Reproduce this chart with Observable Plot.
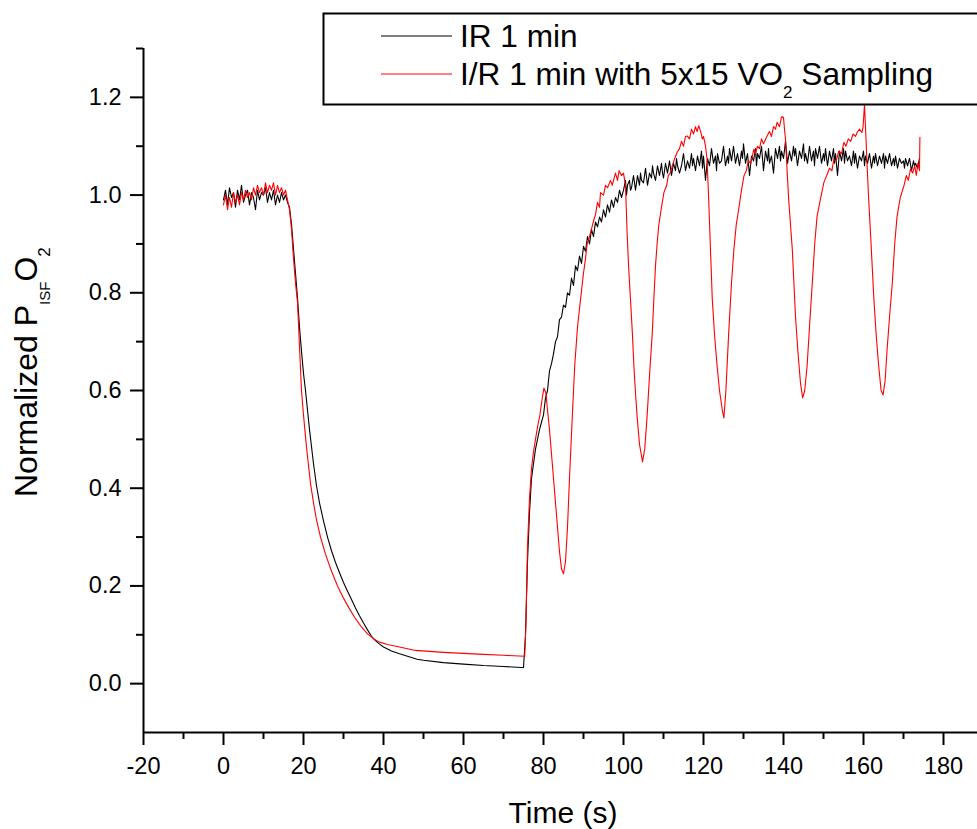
<!DOCTYPE html>
<html>
<head>
<meta charset="utf-8">
<script src="https://cdn.jsdelivr.net/npm/d3@7"></script>
<script src="https://cdn.jsdelivr.net/npm/@observablehq/plot@0.6"></script>
<style>
  html, body { margin: 0; padding: 0; background: #fff; overflow: hidden; }
  svg { display: block; }
</style>
</head>
<body>
<script>
// ---- Data ----
const xTitle = "Time (s)";
const yTitleMain = "Normalized P";
const yTitleSub1 = "ISF";
const yTitleMid = "O";
const yTitleSub2 = "2";
const legendLabel1 = "IR 1 min";
const legendLabel2a = "I/R 1 min with 5x15 VO";
const legendLabel2sub = "2";
const legendLabel2b = " Sampling";

const xMajorTicks = [-20, 0, 20, 40, 60, 80, 100, 120, 140, 160, 180];
const xMinorTicks = [-10, 10, 30, 50, 70, 90, 110, 130, 150, 170];
const yMajorTicks = [0.0, 0.2, 0.4, 0.6, 0.8, 1.0, 1.2];
const yMinorTicks = [0.1, 0.3, 0.5, 0.7, 0.9, 1.1, 1.3];

// IR 1 min (black): [time s, normalized PISFO2]
const irSeries = [
  [0,0.99],[0.5,1.01],[1,0.98],[1.5,1.015],[2,0.995],[2.5,1.005],[3,0.975],[3.5,1.01],[4,0.99],[4.5,1.02],
  [5,0.985],[5.5,1.0],[6,1.01],[6.5,0.98],[7,1.005],[7.5,0.995],[8,0.97],[8.5,1.01],[9,0.99],[9.5,1.005],
  [10,1.0],[10.5,1.015],[11,0.985],[11.5,1.005],[12,0.99],[12.5,1.01],[13,0.98],[13.5,1.0],[14,0.985],[14.5,1.005],
  [15,0.99],[15.5,1.0],[16,0.985],
  [16.5,0.975],[17,0.94],[17.5,0.89],[18,0.84],[18.5,0.79],[19,0.73],[19.5,0.68],[20,0.635],[20.5,0.6],[21,0.56],
  [21.5,0.52],[22,0.485],[22.5,0.45],[23.25,0.405],[24,0.37],[25,0.333],[26,0.3],[27,0.272],[28,0.248],[29,0.227],
  [30,0.207],[31,0.189],[32,0.172],[33,0.155],[34,0.139],[35,0.124],[36,0.11],[37,0.097],[38,0.088],[39,0.081],
  [40,0.075],[42,0.067],[44,0.061],[46,0.056],[48.4,0.05],[50,0.048],[55,0.043],[60,0.04],[65,0.037],[70,0.035],
  [74.5,0.033],[75,0.033],
  [75.5,0.1],[76,0.25],[76.5,0.35],[77,0.42],[77.5,0.45],[78,0.48],[78.5,0.5],[79,0.52],[79.5,0.535],
  [80,0.55],[80.5,0.585],[81,0.6],[81.5,0.64],[82,0.655],[82.5,0.675],[83,0.70],[83.5,0.71],[84,0.745],[84.5,0.75],
  [85,0.775],[85.5,0.77],[86,0.80],[86.5,0.795],[87,0.83],[87.5,0.815],[88,0.855],[88.5,0.845],[89,0.875],[89.5,0.86],
  [90,0.895],[90.5,0.885],[91,0.915],[91.5,0.90],[92,0.93],[92.5,0.915],[93,0.945],[93.5,0.935],[94,0.955],[94.5,0.945],
  [95,0.97],[95.5,0.955],[96,0.98],[96.5,0.965],[97,0.99],[97.5,0.975],[98,0.995],[98.5,0.985],[99,1.01],[99.5,0.995],
  [100,1.01],[100.25,1.02],[100.5,1.03],[100.75,1.0],[101,1.02],[101.5,1.03],[101.75,1.01],[102,1.015],[102.5,1.04],[103,1.01],
  [103.5,1.04],[104,1.02],[104.25,1.045],[104.5,1.03],[105,1.025],[105.5,1.055],[106,1.02],[106.5,1.045],[107,1.035],[107.25,1.06],
  [107.5,1.045],[108,1.03],[108.5,1.06],[109,1.04],[109.5,1.065],[109.75,1.045],[110,1.035],[110.5,1.065],[111,1.045],[111.5,1.07],
  [112,1.04],[112.5,1.065],[113,1.05],[113.25,1.075],[113.5,1.06],[114,1.045],[114.5,1.06],[115,1.085],[115.5,1.05],[116,1.07],
  [116.5,1.055],[117,1.085],[117.25,1.06],[117.5,1.075],[118,1.05],[118.5,1.08],[119,1.06],[119.5,1.09],[119.75,1.055],[120,1.08],
  [120.5,1.03],[121,1.075],[121.5,1.06],[122,1.095],[122.5,1.065],[123,1.08],[123.25,1.05],[123.5,1.085],[124,1.065],[124.5,1.07],
  [125,1.1],[125.5,1.06],[126,1.08],[126.25,1.065],[126.5,1.095],[127,1.07],[127.5,1.1],[128,1.065],[128.5,1.085],[129,1.06],
  [129.5,1.09],[129.75,1.075],[130,1.105],[130.5,1.065],[131,1.085],[131.5,1.04],[132,1.08],[132.5,1.07],[133,1.095],[133.25,1.06],
  [133.5,1.085],[134,1.075],[134.5,1.1],[135,1.05],[135.5,1.09],[136,1.07],[136.25,1.095],[136.5,1.065],[137,1.08],[137.5,1.045],
  [138,1.095],[138.5,1.075],[139,1.1],[139.25,1.07],[139.5,1.09],[140,1.075],[140.5,1.11],[141,1.065],[141.5,1.09],[142,1.07],
  [142.5,1.1],[142.75,1.08],[143,1.095],[143.5,1.06],[144,1.09],[144.5,1.075],[145,1.105],[145.25,1.07],[145.5,1.085],[146,1.065],
  [146.5,1.1],[147,1.07],[147.5,1.09],[147.75,1.06],[148,1.095],[148.5,1.075],[149,1.1],[149.5,1.065],[150,1.085],[150.25,1.07],
  [150.5,1.095],[151,1.06],[151.5,1.09],[152,1.07],[152.5,1.095],[152.75,1.065],[153,1.085],[153.5,1.04],[154,1.09],[154.5,1.07],
  [155,1.095],[155.25,1.065],[155.5,1.09],[156,1.07],[156.5,1.08],[157,1.06],[157.5,1.09],[157.75,1.065],[158,1.085],[158.5,1.055],
  [159,1.08],[159.5,1.07],[160,1.09],[160.25,1.06],[160.5,1.08],[161,1.065],[161.5,1.085],[162,1.055],[162.5,1.08],[162.75,1.065],
  [163,1.085],[163.5,1.06],[164,1.08],[164.5,1.065],[165,1.085],[165.25,1.055],[165.5,1.08],[166,1.065],[166.5,1.085],[167,1.06],
  [167.5,1.075],[167.75,1.06],[168,1.08],[168.5,1.055],[169,1.075],[169.5,1.065],[170,1.07],[170.25,1.055],[170.5,1.075],[171,1.06],
  [171.5,1.075],[172,1.05],[172.5,1.07],[172.75,1.06],[173,1.065],[173.5,1.055],[174,1.075]
];

// I/R 1 min with 5x15 VO2 Sampling (red): [time s, normalized PISFO2]
const vo2Series = [
  [0,0.98],[0.5,1.0],[1,0.97],[1.5,0.995],[2,0.975],[2.5,1.005],[3,0.985],[3.5,1.0],[4,0.98],[4.5,1.005],
  [5,0.99],[5.5,1.01],[6,0.995],[6.5,1.005],[7,0.99],[7.5,1.015],[8,1.0],[8.5,1.02],[9,1.005],[9.5,1.015],
  [10,1.0],[10.5,1.025],[11,1.005],[11.5,1.02],[12,1.01],[12.5,1.025],[13,1.0],[13.5,1.02],[14,1.005],[14.5,1.015],
  [15,1.0],[15.5,1.01],[16,0.99],
  [16.5,0.97],[17,0.93],[17.5,0.87],[18,0.82],[18.5,0.78],[19,0.69],[19.5,0.6],[20,0.55],[20.5,0.505],[21,0.465],
  [21.75,0.41],[22.5,0.37],[23.25,0.335],[24.25,0.3],[25.5,0.265],[27,0.23],[28.5,0.2],[30,0.175],[31.5,0.153],[33,0.133],
  [34.5,0.116],[36,0.102],[37.5,0.092],[39,0.085],[41,0.08],[44,0.075],[48,0.068],[55,0.064],[60,0.062],[65,0.06],
  [70,0.058],[75.3,0.056],
  [75.6,0.12],[76,0.28],[76.5,0.38],[77,0.44],[77.5,0.475],[78,0.5],[78.5,0.525],[79.1,0.55],[79.6,0.58],[80.1,0.605],
  [80.6,0.595],[81,0.56],[81.5,0.52],[82,0.47],[82.5,0.42],[83,0.37],[83.5,0.32],[84,0.27],[84.5,0.235],[85,0.225],
  [85.5,0.25],[86,0.32],[86.5,0.42],[87.2,0.547],[87.8,0.65],[88.5,0.73],[89.25,0.786],[90,0.84],[90.5,0.87],[90.9,0.9],
  [91.5,0.915],[92.2,0.937],[92.6,0.95],[93,0.96],[93.5,0.985],[94,0.975],[94.25,1.005],[95,1.0],[95.5,1.02],[96,1.015],
  [96.75,1.03],[97.2,1.02],[97.5,1.03],[98,1.045],[98.5,1.03],[98.9,1.05],[99.5,1.04],[100,1.045],[100.5,1.02],
  [100.9,0.923],[101.3,0.85],[101.75,0.786],[102.2,0.72],[102.6,0.65],[103,0.595],[103.4,0.547],[104,0.49],[104.75,0.454],
  [105.3,0.48],[105.9,0.547],[106.5,0.63],[107.2,0.718],[107.6,0.79],[108,0.855],[108.4,0.9],[108.8,0.937],[109.4,0.97],
  [110.1,1.005],[110.8,1.02],[111.2,1.04],[111.75,1.046],[112.2,1.06],[112.8,1.075],[113.4,1.087],[114,1.095],[114.5,1.11],
  [115,1.1],[115.5,1.12],[115.9,1.121],[116.5,1.115],[117,1.135],[117.5,1.125],[118,1.14],[118.4,1.13],[118.8,1.142],
  [119.3,1.13],[119.7,1.115],[120,1.12],[120.5,1.1],[120.9,1.073],[121.3,0.99],[122.2,0.786],[122.8,0.71],[123.4,0.65],
  [124,0.6],[124.7,0.56],[125.1,0.544],[125.6,0.6],[126.3,0.718],[127,0.82],[127.6,0.889],[128.2,0.94],[128.8,0.971],
  [129.5,1.01],[130.1,1.039],[130.7,1.05],[131.2,1.07],[131.8,1.065],[132.6,1.094],[133,1.085],[133.5,1.1],[134,1.095],
  [134.5,1.115],[135,1.105],[135.9,1.121],[136.5,1.13],[137,1.12],[137.5,1.14],[138,1.135],[138.4,1.149],[139,1.14],
  [139.5,1.16],[140,1.159],[140.3,1.13],[140.5,1.114],[140.9,1.05],[141.3,0.99],[142.2,0.889],[143,0.752],[143.6,0.68],
  [144.25,0.615],[144.8,0.585],[145.3,0.6],[145.9,0.65],[146.5,0.73],[147.2,0.82],[147.8,0.9],[148.4,0.957],[149.2,0.99],
  [150.1,1.026],[150.8,1.04],[151.5,1.055],[152.1,1.05],[152.6,1.073],[153.2,1.07],[153.8,1.09],[154.5,1.085],[155.1,1.108],
  [155.6,1.1],[156.2,1.115],[156.8,1.11],[157.4,1.125],[158,1.12],[158.4,1.128],[159,1.135],[159.6,1.128],[159.9,1.14],
  [160.25,1.186],[160.6,1.12],[160.9,1.06],[161.3,0.99],[161.75,0.923],[162.6,0.786],[163.2,0.71],[163.8,0.65],[164.4,0.6],
  [164.9,0.591],[165.4,0.62],[165.9,0.684],[166.5,0.75],[167.2,0.82],[167.8,0.9],[168.4,0.957],[169.2,0.995],[170.1,1.019],
  [170.7,1.04],[171.2,1.03],[171.75,1.053],[172.3,1.045],[172.8,1.06],[173.2,1.04],[173.6,1.065],[174,1.05],[174.1,1.118]
];

const ir = irSeries.map(([t, v]) => ({t, v}));
const vo2 = vo2Series.map(([t, v]) => ({t, v}));

const font = "'Liberation Sans', Arial, Helvetica, sans-serif";

const chart = Plot.plot({
  width: 977,
  height: 829,
  marginLeft: 143,
  marginRight: 0,
  marginTop: 48,
  marginBottom: 97,
  x: {domain: [-20, 188.5]},
  y: {domain: [-0.1, 1.3]},
  style: {fontFamily: font, fontSize: "23.5px", color: "black", background: "white", overflow: "hidden"},
  marks: [
    Plot.axisX({ticks: xMajorTicks, tickSize: 13, tickPadding: 12, tickFormat: d => String(d), label: null, strokeWidth: 2}),
    Plot.axisX({ticks: xMinorTicks, tickSize: 7, text: null, label: null, strokeWidth: 2}),
    Plot.axisY({ticks: yMajorTicks, tickSize: 13, tickPadding: 9, tickFormat: d3.format(".1f"), label: null, strokeWidth: 2}),
    Plot.axisY({ticks: yMinorTicks, tickSize: 7, text: null, label: null, strokeWidth: 2}),
    Plot.ruleX([-20], {stroke: "black", strokeWidth: 2}),
    Plot.ruleY([-0.1], {stroke: "black", strokeWidth: 2}),
    Plot.line(ir, {x: "t", y: "v", stroke: "black", strokeWidth: 1.1}),
    Plot.line(vo2, {x: "t", y: "v", stroke: "#ff0000", strokeWidth: 1.1})
  ]
});
document.body.appendChild(chart);

const svg = d3.select(chart);

// x-axis title
svg.append("text")
  .attr("x", 563).attr("y", 823)
  .attr("text-anchor", "middle")
  .attr("font-family", font).attr("font-size", 30).attr("fill", "black")
  .text(xTitle);

// y-axis title with subscripts
const yt = svg.append("text")
  .attr("transform", "translate(37,497) rotate(-90)")
  .attr("text-anchor", "start")
  .attr("font-family", font).attr("font-size", 32).attr("fill", "black");
yt.append("tspan").text(yTitleMain);
yt.append("tspan").attr("font-size", 15).attr("dy", 13).text(yTitleSub1);
yt.append("tspan").attr("dy", -13).text(yTitleMid);
yt.append("tspan").attr("font-size", 17).attr("dy", 13).text(yTitleSub2);

// legend box
const lg = svg.append("g").attr("text-anchor", "start");
lg.append("path")
  .attr("d", "M990,13.5 H323.5 V104.5 H990 Z")
  .attr("fill", "white").attr("stroke", "black").attr("stroke-width", 2);
lg.append("line").attr("x1", 381).attr("x2", 452).attr("y1", 36).attr("y2", 36)
  .attr("stroke", "black").attr("stroke-width", 1);
lg.append("line").attr("x1", 381).attr("x2", 452).attr("y1", 74).attr("y2", 74)
  .attr("stroke", "#ff0000").attr("stroke-width", 1);
lg.append("text").attr("x", 460).attr("y", 46.5)
  .attr("text-anchor", "start")
  .attr("font-family", font).attr("font-size", 31.6).attr("fill", "black")
  .text(legendLabel1);
const l2 = lg.append("text").attr("x", 460).attr("y", 84.5)
  .attr("text-anchor", "start")
  .attr("font-family", font).attr("font-size", 31.6).attr("fill", "black");
l2.append("tspan").text(legendLabel2a);
l2.append("tspan").attr("font-size", 17).attr("dy", 13).text(legendLabel2sub);
l2.append("tspan").attr("dy", -13).text(legendLabel2b);
</script>
</body>
</html>
